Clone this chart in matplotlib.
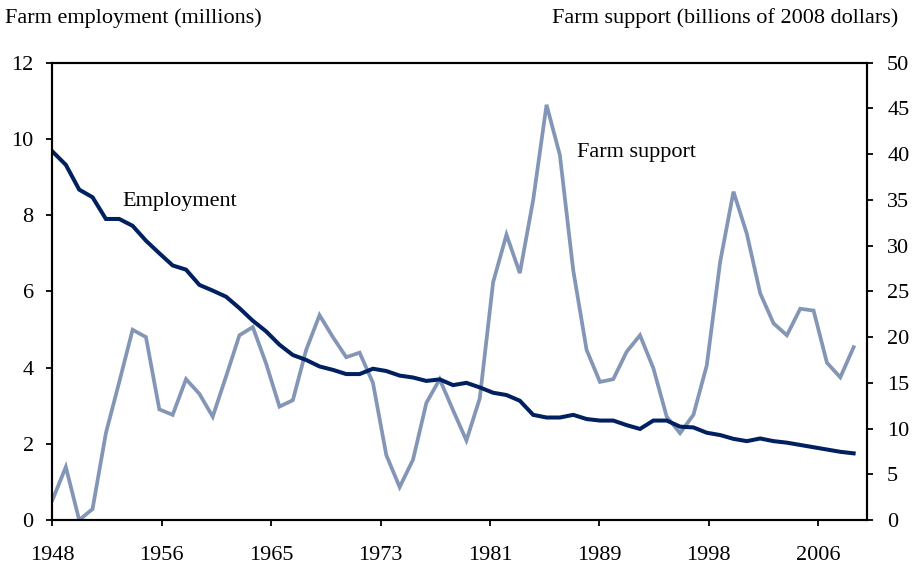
import numpy as np
import matplotlib
matplotlib.use("Agg")
import matplotlib.pyplot as plt

plt.rcParams['font.family'] = ['Liberation Serif', 'DejaVu Serif']

years = list(range(1948, 2009))

# farm employment, millions (left axis)
employment = [9.67, 9.32, 8.67, 8.47, 7.90, 7.90, 7.72, 7.33, 7.00, 6.68,
              6.57, 6.17, 6.02, 5.86, 5.56, 5.23, 4.95, 4.60, 4.33, 4.20,
              4.03, 3.94, 3.83, 3.83, 3.97, 3.91, 3.79, 3.74, 3.65, 3.69,
              3.54, 3.60, 3.48, 3.34, 3.28, 3.13, 2.76, 2.69, 2.69, 2.76,
              2.65, 2.61, 2.61, 2.49, 2.39, 2.61, 2.61, 2.45, 2.43, 2.29,
              2.23, 2.13, 2.07, 2.14, 2.07, 2.03, 1.97, 1.91, 1.85, 1.79,
              1.75]

# farm support, billions of 2008 dollars (right axis)
support = [2.2, 5.8, 0.0, 1.2, 9.5, 15.1, 20.8, 20.0, 12.1, 11.5,
           15.4, 13.8, 11.3, 15.7, 20.2, 21.1, 17.1, 12.4, 13.1, 18.6,
           22.4, 20.0, 17.8, 18.3, 15.0, 7.1, 3.6, 6.6, 12.8, 15.4,
           12.0, 8.7, 13.3, 26.0, 31.2, 27.0, 35.0, 45.4, 39.9, 27.3,
           18.6, 15.1, 15.4, 18.4, 20.2, 16.6, 11.3, 9.5, 11.5, 16.9,
           28.2, 35.9, 31.3, 24.8, 21.5, 20.2, 23.1, 22.9, 17.2, 15.6,
           18.9]

tick_labels = ['1948', '1956', '1965', '1973', '1981', '1989', '1998', '2006']

navy = '#002060'
steel = '#8496B6'

fig = plt.figure(figsize=(9.16, 5.65), dpi=100)
ax = fig.add_axes([0.0573, 0.0796, 0.8892, 0.8094])
ax2 = ax.twinx()

ax2.plot(years, support, color=steel, lw=2.7, solid_joinstyle='miter')
ax.plot(years, employment, color=navy, lw=2.9, solid_joinstyle='miter')
ax.set_zorder(ax2.get_zorder() + 1)
ax.patch.set_visible(False)

ax.set_xlim(1948, 2009)
ax.set_ylim(0, 12)
ax2.set_ylim(0, 50)
ax.set_yticks(range(0, 13, 2))
ax2.set_yticks(range(0, 51, 5))

xt = 1948 + np.arange(len(tick_labels)) * 8.19
ax.set_xticks(xt)
ax.set_xticklabels(tick_labels)

for a in (ax, ax2):
    for s in a.spines.values():
        s.set_linewidth(1.5)
        s.set_color('black')
ax.tick_params(axis='y', direction='out', length=4.5, width=1.3, pad=9, labelsize=16)
ax.tick_params(axis='x', direction='out', length=4, width=1.3, pad=15, labelsize=16)
ax2.tick_params(axis='y', direction='out', length=4.5, width=1.3, pad=10, labelsize=16)

ax.text(1953.2, 8.35, 'Employment', fontsize=16, va='center', ha='left')
ax2.text(1987.3, 40.2, 'Farm support', fontsize=16, va='center', ha='left')

fig.text(0.005, 0.968, 'Farm employment (millions)', fontsize=16, va='center', ha='left')
fig.text(0.981, 0.968, 'Farm support (billions of 2008 dollars)', fontsize=16,
         va='center', ha='right')

fig.savefig('out.png', dpi=100)
